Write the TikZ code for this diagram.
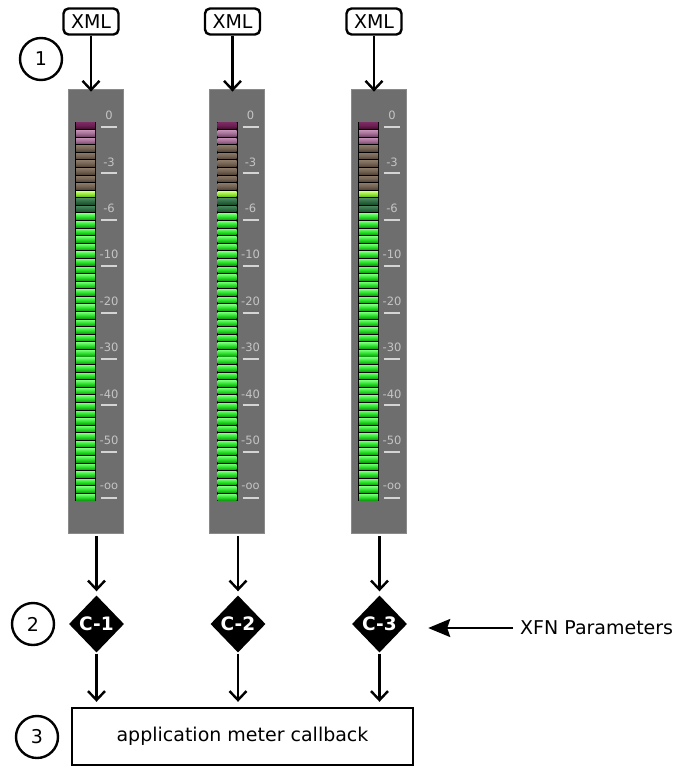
\documentclass[tikz,border=0pt]{standalone}
\usepackage{fontspec}
\setmainfont{DejaVu Sans}
\usetikzlibrary{shapes.geometric,arrows.meta,calc}

\definecolor{panelgray}{HTML}{6E6E6E}
\definecolor{paneledge}{HTML}{8A8A8A}
\definecolor{tickgray}{HTML}{D4D4D4}
\definecolor{labelgray}{HTML}{C4C4C4}

\begin{document}
\begin{tikzpicture}[x=1pt,y=-1pt,
  every node/.style={font=\fontsize{19}{23}\selectfont},
  conn/.style={line width=2.4pt,-{Straight Barb[length=9pt,width=17pt]}},
  xfnarrow/.style={line width=2.4pt,-{Stealth[length=22pt,width=18pt,inset=3pt]}},
  xmlbox/.style={draw,line width=2.4pt,rounded corners=5pt,minimum width=55pt,
    minimum height=26pt,inner sep=1pt},
  panel/.style={fill=panelgray,draw=paneledge,line width=0.8pt,
    minimum width=55pt,minimum height=444pt,inner sep=0pt},
  dia/.style={diamond,fill=black,text=white,minimum width=55pt,
    minimum height=57pt,inner sep=0pt,font=\fontsize{18.5}{22}\selectfont\bfseries},
  num/.style={circle,draw,line width=2.4pt,minimum size=42pt,inner sep=0pt},
  cbbox/.style={draw,line width=2.4pt,minimum width=341pt,minimum height=57pt,inner sep=0pt},
  scalelabel/.style={text=labelgray,inner sep=0pt,font=\fontsize{11.5}{13}\selectfont},
  tick/.style={draw=tickgray,line width=2pt},
  ledpurple/.style={top color={rgb,255:red,120;green,40;blue,95},bottom color={rgb,255:red,70;green,15;blue,50},middle color={rgb,255:red,105;green,30;blue,80}},
  ledpink/.style={top color={rgb,255:red,190;green,140;blue,175},bottom color={rgb,255:red,120;green,75;blue,110},middle color={rgb,255:red,165;green,110;blue,150}},
  ledbrown/.style={top color={rgb,255:red,135;green,118;blue,100},bottom color={rgb,255:red,85;green,70;blue,58},middle color={rgb,255:red,115;green,98;blue,82}},
  ledlime/.style={top color={rgb,255:red,200;green,255;blue,120},bottom color={rgb,255:red,90;green,190;blue,20},middle color={rgb,255:red,150;green,230;blue,60}},
  leddark/.style={top color={rgb,255:red,70;green,130;blue,90},bottom color={rgb,255:red,25;green,80;blue,45},middle color={rgb,255:red,45;green,105;blue,65}},
  ledgreen/.style={top color={rgb,255:red,110;green,250;blue,110},bottom color={rgb,255:red,20;green,160;blue,20},middle color={rgb,255:red,40;green,225;blue,40}},
]
\useasboundingbox (0,0) rectangle (676,767);

% step markers
\node[num] (n1) at (41,59) {1};
\node[num] (n2) at (33,624) {2};
\node[num] (n3) at (37,737) {3};

% callback box
\node[cbbox] (cb) at (242.5,736.5) {application meter callback};

% three meters, each fed by an XML description and followed by a converter
\foreach \i/\L in {1/68,2/209.5,3/351}{
  \node[panel] (p\i) at ({\L+27.5},311) {};
  % LED strip
  \fill[black] ({\L+7},122) rectangle ({\L+28},501);
  \foreach \k in {0,...,49}{
    \pgfmathsetmacro{\ya}{122+\k*7.58+1.0}
    \pgfmathsetmacro{\yb}{122+\k*7.58+6.6}
    \ifnum\k=0 \def\ledstyle{ledpurple}\fi
    \ifnum\k>0 \def\ledstyle{ledpink}\fi
    \ifnum\k>2 \def\ledstyle{ledbrown}\fi
    \ifnum\k=9 \def\ledstyle{ledlime}\fi
    \ifnum\k>9 \def\ledstyle{leddark}\fi
    \ifnum\k>11 \def\ledstyle{ledgreen}\fi
    \path[\ledstyle] ({\L+8},\ya) rectangle ({\L+27},\yb);
  }
  % dB scale
  \foreach \j/\t in {0/0,1/-3,2/-6,3/-10,4/-20,5/-30,6/-40,7/-50,8/-oo}{
    \pgfmathsetmacro{\yt}{127+\j*46.4}
    \draw[tick] ({\L+33},\yt) -- ({\L+49},\yt);
    \node[scalelabel] at ({\L+41},{\yt-11.5}) {\t};
  }
  \node[xmlbox] (x\i) at ({\L+23},21.5) {XML};
  \draw[conn,shorten >=-3pt] (x\i.south) -- (x\i.south |- p\i.north);
  \node[dia] (c\i) at ({\L+28.5},624) {C-\i};
  \draw[conn,shorten <=3pt,shorten >=4pt] (c\i |- p\i.south) -- (c\i.north);
  \draw[conn,shorten <=1pt,shorten >=5pt] (c\i.south) -- (c\i.south |- cb.north);
}

% parameter input
\node[anchor=west,inner sep=0pt] (xfn) at (520,628) {XFN Parameters};
\draw[xfnarrow,shorten <=7pt,shorten >=21pt] (xfn.west) -- (xfn.west -| c3.east);
\end{tikzpicture}
\end{document}
